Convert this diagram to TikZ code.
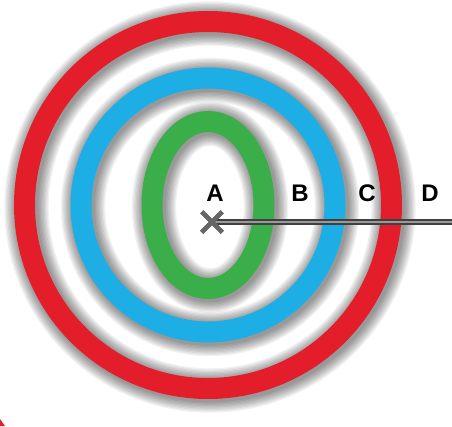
\documentclass[tikz,border=0pt]{standalone}
\usepackage{fontspec}
\setsansfont{Liberation Sans}
\usetikzlibrary{shapes.misc}

\definecolor{ringred}{HTML}{E31E2A}
\definecolor{ringblue}{HTML}{1DAEE6}
\definecolor{ringgreen}{HTML}{3AAE49}

\def\ringwd{21pt}

\begin{document}
\begin{tikzpicture}[x=1pt, y=-1pt,
    ring/.style={line width=\ringwd},
    halo/.style={black, opacity=0.055, line width=\ringwd+2.6pt*#1},
    letter/.style={font=\sffamily\bfseries\fontsize{24}{24}\selectfont, inner sep=0pt, anchor=center},
    marker/.style={cross out, draw=black!60, line width=4.5pt, minimum size=16pt, inner sep=0pt}]
      \useasboundingbox (0,0) rectangle (452,426);
      \coordinate (c) at (208,205);
      % shadows
      \foreach \k in {1,...,9} {
        \draw[halo=\k] ([shift={(2,2)}]c) circle [radius=183.5pt];
        \draw[halo=\k] ([shift={(2,2)}]c) circle [radius=127pt];
        \draw[halo=\k] ([shift={(2,2)}]c) ellipse [x radius=56pt, y radius=83.5pt];
      }
      \draw[ring, ringred] (c) circle [radius=183.5pt];
      \draw[ring, ringblue] (c) circle [radius=127pt];
      \draw[ring, ringgreen] (c) ellipse [x radius=56pt, y radius=83.5pt];
      \fill[ringred] (0,419) -- (5,426) -- (0,426) -- cycle;
      \node[letter] (A) at (215,193) {A};
      \node[letter] (B) at (300,193) {B};
      \node[letter] (C) at (367,193) {C};
      \node[letter] (D) at (430,193) {D};
      \coordinate (end) at (452,222);
      \node[marker] (x) at (212,222) {};
      \draw[black!75, line width=5.5pt] (x.center) -- (end);
      \draw[black!40, line width=2pt] (x.center) -- (end);
      \node[marker] at (x) {};
    \end{tikzpicture}
\end{document}
